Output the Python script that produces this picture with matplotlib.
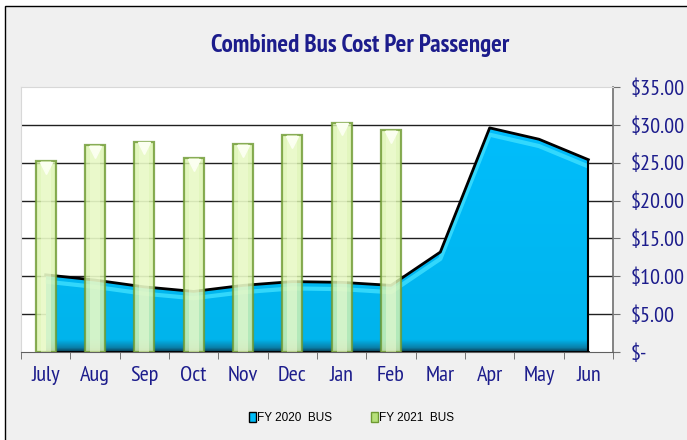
import matplotlib
import matplotlib.pyplot as plt
import numpy as np
from matplotlib.patches import Rectangle, Patch

matplotlib.use("agg")

months = ["July", "Aug", "Sep", "Oct", "Nov", "Dec", "Jan", "Feb", "Mar", "Apr", "May", "Jun"]
fy2020_bus = [10.2, 9.5, 8.6, 8.0, 8.8, 9.3, 9.2, 8.8, 13.2, 29.6, 28.1, 25.4]
fy2021_bus = [25.2, 27.3, 27.8, 25.6, 27.5, 28.7, 30.3, 29.3]
y_ticks = [0, 5, 10, 15, 20, 25, 30, 35]
y_labels = ["$-", "$5.00", "$10.00", "$15.00", "$20.00", "$25.00", "$30.00", "$35.00"]

navy = "#1c1c8c"
narrow = ["PT Sans Narrow", "Archivo Narrow", "DejaVu Sans"]

fig = plt.figure(figsize=(6.87, 4.40), dpi=100)
fig.patch.set_facecolor("white")
fig.patches.append(Rectangle((5 / 687, -0.1), 1.2, 1 - 6 / 440 + 0.1, transform=fig.transFigure,
                             facecolor="#f0f0f0", edgecolor="black", linewidth=1, zorder=-5))

ax = fig.add_axes([21 / 687, 1 - 352 / 440, (613 - 21) / 687, (352 - 87) / 440])
ax.set_facecolor("white")

x = np.arange(len(months))

# area with simple vertical gradient
poly = ax.fill_between(x, fy2020_bus, 0, color="#00bcf8", linewidth=0, zorder=2)
grad = np.linspace(0, 1, 256).reshape(-1, 1)
cmap = matplotlib.colors.LinearSegmentedColormap.from_list(
    "blu", [(0, "#0a3f55"), (0.015, "#0a7fa8"), (0.045, "#00b4ec"), (1, "#00bfff")])
img = ax.imshow(grad, extent=[x[0], x[-1], 0, 35], origin="lower", aspect="auto", cmap=cmap, zorder=2)
img.set_clip_path(poly.get_paths()[0], transform=ax.transData)
ax.set_xlim(-0.5, len(months) - 0.5)
ax.set_ylim(0, 35)
hl, = ax.plot(x, np.array(fy2020_bus) - 0.9, color="#3fe0ff", linewidth=3, zorder=3, alpha=0.8)
hl.set_clip_path(poly.get_paths()[0], transform=ax.transData)
ax.plot(x, fy2020_bus, color="black", linewidth=2, zorder=4)
ax.plot([x[-1], x[-1]], [0, fy2020_bus[-1]], color="black", linewidth=1.5, zorder=4)
ax.plot([x[0], x[-1]], [0, 0], color="black", linewidth=2, zorder=4)

# bars
bx = x[:len(fy2021_bus)]
ax.bar(bx, fy2021_bus, width=0.41, color="#dcf5b0", edgecolor="#6e9a32", linewidth=1.6,
       alpha=0.82, zorder=5)
ax.bar(bx, fy2021_bus, width=0.2, color="#f2fdd8", linewidth=0, alpha=0.5, zorder=5)
ax.plot(bx, np.array(fy2021_bus) - 0.9, linestyle="none", marker="v", markersize=9,
        color="#fbfff0", zorder=6)

for y in y_ticks[1:-1]:
    ax.axhline(y, color="#202020", linewidth=1, zorder=1)

for s in ["top", "left"]:
    ax.spines[s].set_color("#d8d8d8")
ax.spines["bottom"].set_color("#606060")
ax.spines["right"].set_color("#707070")
ax.spines["right"].set_linewidth(1.2)

ax.yaxis.tick_right()
ax.set_yticks(y_ticks)
ax.set_yticklabels(y_labels, fontsize=16, color=navy, family=narrow)
ax.tick_params(axis="y", length=5, color="#707070", pad=8)
ax.set_xticks(x)
ax.set_xticklabels(months, fontsize=16, color=navy, family=narrow)
ax.set_xticks(np.arange(-0.5, len(months)), minor=True)
ax.tick_params(axis="x", which="major", length=0, pad=10)
ax.tick_params(axis="x", which="minor", length=5, color="#606060")

fig.text(0.524, 0.897, "Combined Bus Cost Per Passenger", ha="center", va="center",
         fontsize=18, fontweight="bold", color=navy, family=narrow)

handles = [Patch(facecolor="#00bcf8", edgecolor="black"),
           Patch(facecolor="#b6e07a", edgecolor="#6e9a32")]
fig.legend(handles, ["FY 2020  BUS", "FY 2021  BUS"], loc="center", bbox_to_anchor=(0.512, 0.05),
           ncol=2, frameon=False, handlelength=0.6, handleheight=1.0,
           handletextpad=0.1, columnspacing=3.3,
           prop={"family": ["Liberation Sans", "DejaVu Sans"], "size": 8.5})

plt.savefig("out.png", dpi=100)
plt.close()
